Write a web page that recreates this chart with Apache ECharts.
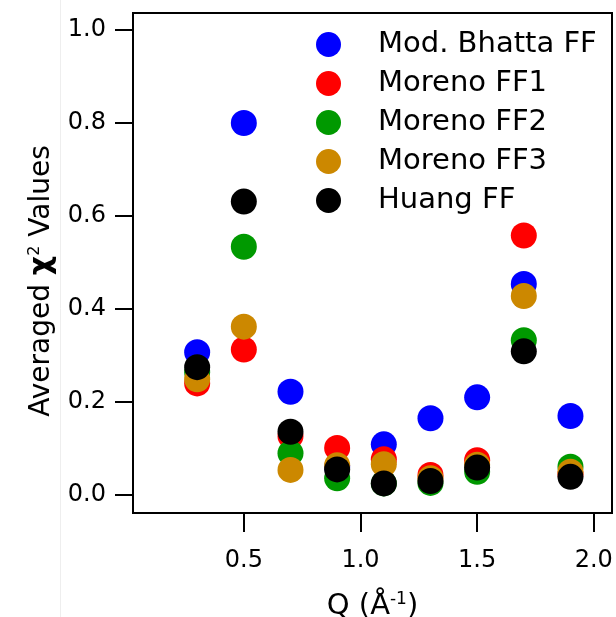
<!DOCTYPE html>
<html>
<head>
<meta charset="utf-8">
<script src="https://cdn.jsdelivr.net/npm/echarts@6/dist/echarts.min.js"></script>
<style>html,body{margin:0;padding:0;background:#fff;}#c{width:616px;height:617px;}</style>
</head>
<body>
<div id="c"></div>
<script>
const qValues = [0.3, 0.5, 0.7, 0.9, 1.1, 1.3, 1.5, 1.7, 1.9];
const modBhatta = [0.307, 0.800, 0.222, 0.060, 0.109, 0.165, 0.210, 0.454, 0.170];
const moreno1   = [0.240, 0.313, 0.127, 0.101, 0.077, 0.043, 0.075, 0.558, 0.045];
const moreno2   = [0.264, 0.534, 0.090, 0.036, 0.025, 0.026, 0.050, 0.333, 0.061];
const moreno3   = [0.249, 0.362, 0.054, 0.064, 0.066, 0.036, 0.065, 0.428, 0.050];
const huang     = [0.275, 0.631, 0.136, 0.055, 0.025, 0.030, 0.059, 0.309, 0.039];
const seriesNames = ['Mod. Bhatta FF', 'Moreno FF1', 'Moreno FF2', 'Moreno FF3', 'Huang FF'];
const xTicks = [0.5, 1.0, 1.5, 2.0];
const yTicks = [0.0, 0.2, 0.4, 0.6, 0.8, 1.0];

const colors = ['#0000ff', '#ff0000', '#009900', '#cc8800', '#000000'];
const allData = [modBhatta, moreno1, moreno2, moreno3, huang];
const FONT = 'DejaVu Sans';

const chart = echarts.init(document.getElementById('c'));
chart.setOption({
  animation: false,
  backgroundColor: '#ffffff',
  textStyle: { fontFamily: FONT },
  grid: { left: 133, top: 13, right: 4, bottom: 104, show: true, borderColor: '#000', borderWidth: 2,
    containLabel: false, outerBoundsMode: 'none' },
  legend: {
    orient: 'vertical', left: 311, top: 25,
    icon: 'circle', itemWidth: 25, itemHeight: 25, itemGap: 10,
    textStyle: { fontSize: 29, color: '#000', fontFamily: FONT, padding: [0, 0, 0, 32], lineHeight: 25 },
    data: seriesNames
  },
  xAxis: {
    type: 'value', min: 0.025, max: 2.078,
    axisLine: { show: true, onZero: false, lineStyle: { color: '#000', width: 2 } },
    axisTick: { show: true, inside: false, length: 19, lineStyle: { color: '#000', width: 2 }, customValues: xTicks },
    axisLabel: { show: true, margin: 36, fontSize: 24, color: '#000', fontFamily: FONT, customValues: xTicks,
      formatter: v => v.toFixed(1) },
    splitLine: { show: false },
    name: 'Q (Å{sup|-1})', nameLocation: 'middle', nameGap: 78,
    nameTextStyle: { fontSize: 29, color: '#000', fontFamily: FONT,
      rich: { sup: { fontSize: 17, verticalAlign: 'top', padding: [0, 0, 14, 0], fontFamily: FONT, color: '#000' } } }
  },
  yAxis: {
    type: 'value', min: -0.0387, max: 1.0366,
    axisLine: { show: true, onZero: false, lineStyle: { color: '#000', width: 2 } },
    axisTick: { show: true, inside: false, length: 18, lineStyle: { color: '#000', width: 2 }, customValues: yTicks },
    axisLabel: { show: true, margin: 27, fontSize: 24, color: '#000', fontFamily: FONT, customValues: yTicks,
      formatter: v => v.toFixed(1) },
    splitLine: { show: false },
    name: 'Averaged {b|χ}{sup|2} Values', nameLocation: 'middle', nameGap: 76, nameRotate: 90,
    nameTextStyle: { fontSize: 28, color: '#000', fontFamily: FONT, padding: [0, 36, 0, 0],
      rich: {
        b: { fontSize: 30, fontWeight: 'bold', fontFamily: FONT, color: '#000' },
        sup: { fontSize: 16, verticalAlign: 'top', padding: [0, 0, 14, 0], fontFamily: FONT, color: '#000' }
      } }
  },
  graphic: [
    { type: 'line', shape: { x1: 60.5, y1: 0, x2: 60.5, y2: 617 }, style: { stroke: '#eeeeee', lineWidth: 1 }, z: -1 }
  ],
  series: seriesNames.map((name, i) => ({
    name, type: 'scatter', symbol: 'circle', symbolSize: 26,
    itemStyle: { color: colors[i], opacity: 1 },
    data: qValues.map((q, j) => [q, allData[i][j]]),
    z: 2 + i
  }))
});
</script>
</body>
</html>
